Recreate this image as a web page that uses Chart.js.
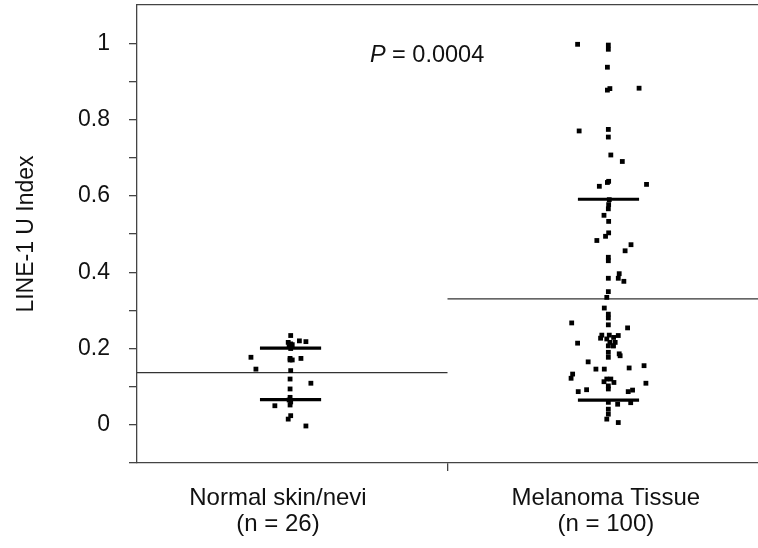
<!DOCTYPE html>
<html>
<head>
<meta charset="utf-8">
<script src="https://cdn.jsdelivr.net/npm/chart.js@4"></script>
<style>
  html, body { margin: 0; padding: 0; background: #fff; }
</style>
</head>
<body>
<canvas id="chart" width="758" height="548"></canvas>
<script>
// LINE-1 U index, normal skin/nevi vs melanoma tissue

const groupLabels = [['Normal skin/nevi', '(n = 26)'], ['Melanoma Tissue', '(n = 100)']];
const labelPositions = [0.454, 1.51];
const groupRanges = [[0, 1], [1, 2]];
const groupMeans = [0.137, 0.330];
const upperBars = [0.201, 0.591];
const lowerBars = [0.066, 0.065];
const barSpans = [[0.396, 0.593], [1.420, 1.617]];
const pValueText = '0.0004';

const normalX = [0.495, 0.523, 0.544, 0.487, 0.495, 0.495, 0.367, 0.493, 0.493, 0.528, 0.383, 0.495, 0.493,
    0.560, 0.493, 0.493, 0.495, 0.493, 0.444, 0.495, 0.487, 0.544, 0.490, 0.500, 0.490, 0.500];
const normalY = [0.234, 0.220, 0.218, 0.216, 0.212, 0.200, 0.177, 0.174, 0.170, 0.174, 0.146, 0.142, 0.120,
    0.109, 0.094, 0.072, 0.060, 0.052, 0.050, 0.024, 0.015, -0.003, 0.205, 0.210, 0.065, 0.170];

const melanomaX = [1.419, 1.518, 1.518, 1.515, 1.523, 1.515, 1.617, 1.424, 1.518, 1.518, 1.526, 1.563, 1.515,
    1.519, 1.489, 1.641, 1.521, 1.519, 1.518, 1.504, 1.519, 1.519, 1.509, 1.481, 1.591, 1.572, 1.518, 1.518,
    1.553, 1.518, 1.550, 1.568, 1.518, 1.513, 1.505, 1.518, 1.518, 1.400, 1.518, 1.580, 1.497, 1.493, 1.521,
    1.550, 1.535, 1.540, 1.513, 1.523, 1.534, 1.419, 1.518, 1.534, 1.518, 1.518, 1.553, 1.453, 1.556, 1.478,
    1.505, 1.585, 1.633, 1.403, 1.398, 1.513, 1.526, 1.536, 1.504, 1.518, 1.518, 1.639, 1.421, 1.448, 1.582,
    1.596, 1.518, 1.548, 1.590, 1.518, 1.518, 1.513, 1.550];
const melanomaY = [0.997, 0.995, 0.984, 0.937, 0.881, 0.877, 0.882, 0.770, 0.774, 0.754, 0.707, 0.690, 0.635,
    0.638, 0.625, 0.630, 0.590, 0.577, 0.566, 0.549, 0.533, 0.503, 0.494, 0.483, 0.472, 0.456, 0.439, 0.430,
    0.396, 0.384, 0.384, 0.376, 0.349, 0.334, 0.306, 0.290, 0.280, 0.267, 0.262, 0.254, 0.235, 0.227, 0.235,
    0.234, 0.229, 0.216, 0.225, 0.216, 0.207, 0.214, 0.207, 0.207, 0.190, 0.177, 0.186, 0.165, 0.181, 0.146,
    0.146, 0.149, 0.155, 0.133, 0.122, 0.120, 0.120, 0.111, 0.113, 0.102, 0.094, 0.109, 0.087, 0.092, 0.087,
    0.091, 0.059, 0.054, 0.058, 0.041, 0.028, 0.015, 0.006];

const FONT = 'Liberation Sans, Arial, sans-serif';
const AXIS_COLOR = '#444';

function toPoints(xs, ys) {
    return xs.map((x, i) => ({ x: x, y: ys[i] }));
}

function segment(x0, x1, y) {
    return [{ x: x0, y: y }, { x: x1, y: y }];
}

// axes get their exact size, no extra label padding
function noPadding(s) {
    s.paddingTop = 0;
    s.paddingBottom = 0;
    s.paddingLeft = 0;
    s.paddingRight = 0;
}

const lineDefaults = { type: 'line', showLine: true, pointRadius: 0, pointHoverRadius: 0, fill: false };

const datasets = [
    { label: 'Normal', data: toPoints(normalX, normalY), backgroundColor: '#000', borderWidth: 0,
      pointStyle: 'rect', pointRadius: 3.4 },
    { label: 'Melanoma', data: toPoints(melanomaX, melanomaY), backgroundColor: '#000', borderWidth: 0,
      pointStyle: 'rect', pointRadius: 3.4 }
];
groupMeans.forEach((m, i) => {
    datasets.push(Object.assign({}, lineDefaults, {
        data: segment(groupRanges[i][0], groupRanges[i][1], m), borderColor: '#333', borderWidth: 1.3
    }));
});
[upperBars, lowerBars].forEach(bars => {
    bars.forEach((v, i) => {
        datasets.push(Object.assign({}, lineDefaults, {
            data: segment(barSpans[i][0], barSpans[i][1], v), borderColor: '#000', borderWidth: 3.2
        }));
    });
});

// italic P, then the value
const pLabel = {
    id: 'pLabel',
    afterDatasetsDraw(chart) {
        const { ctx, scales } = chart;
        const x = scales.x.getPixelForValue(0.75);
        const y = scales.y.getPixelForValue(0.968);
        ctx.save();
        ctx.fillStyle = '#111';
        ctx.textBaseline = 'middle';
        ctx.font = 'italic 23.5px ' + FONT;
        ctx.fillText('P', x, y);
        const w = ctx.measureText('P').width;
        ctx.font = '23.5px ' + FONT;
        ctx.fillText(' = ' + pValueText, x + w, y);
        ctx.restore();
    }
};

new Chart(document.getElementById('chart'), {
    type: 'scatter',
    data: { datasets },
    plugins: [pLabel],
    options: {
        responsive: false,
        animation: false,
        events: [],
        layout: { padding: 0, autoPadding: false },
        plugins: { legend: { display: false }, tooltip: { enabled: false } },
        scales: {
            x: {
                type: 'linear', min: 0, max: 2,
                afterBuildTicks: s => { s.ticks = [{ value: labelPositions[0] }, { value: 1 }, { value: labelPositions[1] }]; },
                afterFit: s => { s.height = 85; noPadding(s); },
                ticks: {
                    autoSkip: false, maxRotation: 0, padding: 14, color: '#111',
                    font: { family: FONT, size: 24, lineHeight: 1.1 },
                    callback: v => v === labelPositions[0] ? groupLabels[0] : v === labelPositions[1] ? groupLabels[1] : ''
                },
                grid: {
                    drawOnChartArea: false, tickLength: 8, lineWidth: 1.3,
                    tickColor: c => (c.tick && c.tick.value === 1) ? AXIS_COLOR : 'rgba(0,0,0,0)'
                },
                border: { color: AXIS_COLOR, width: 1.3 }
            },
            x2: {
                type: 'linear', position: 'top', min: 0, max: 2,
                afterFit: s => { s.height = 5; noPadding(s); },
                ticks: { display: false },
                grid: { display: false, drawTicks: false },
                border: { color: AXIS_COLOR, width: 1.3 }
            },
            y: {
                min: -0.1, max: 1.1,
                afterBuildTicks: s => {
                    const t = [];
                    for (let i = -1; i <= 10; i++) t.push({ value: i / 10 });
                    s.ticks = t;
                },
                afterFit: s => { s.width = 137; noPadding(s); },
                ticks: {
                    padding: 19, color: '#111', font: { family: FONT, size: 23 },
                    callback: v => {
                        const k = Math.round(v * 10);
                        if (k < 0 || k > 10 || k % 2) return '';
                        return String(k / 10);
                    }
                },
                grid: {
                    drawOnChartArea: false, tickLength: 8, lineWidth: 1.3, tickColor: AXIS_COLOR
                },
                border: { color: AXIS_COLOR, width: 1.3 },
                title: { display: true, text: 'LINE-1 U Index', color: '#111', font: { family: FONT, size: 23 }, padding: { top: 13, bottom: 4 } }
            }
        }
    }
});
</script>
</body>
</html>
